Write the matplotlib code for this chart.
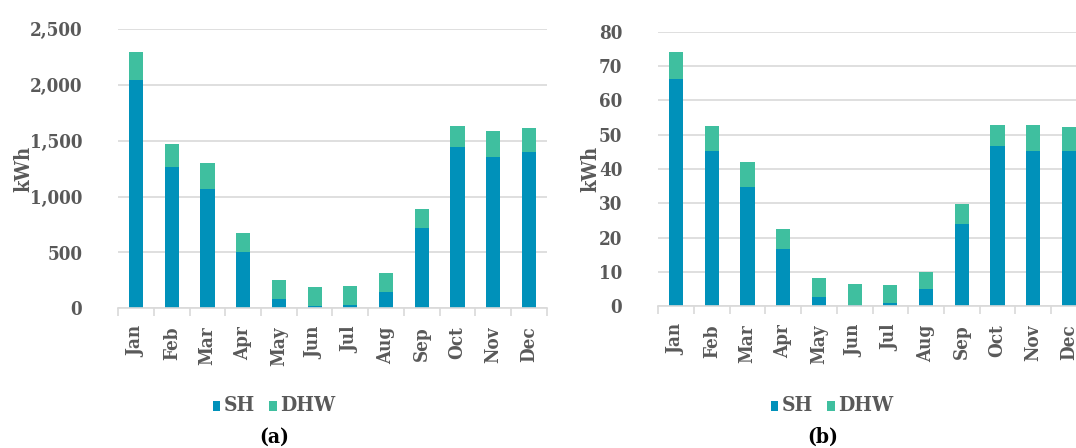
import matplotlib
matplotlib.use("Agg")
import matplotlib.pyplot as plt
from matplotlib.ticker import FuncFormatter, FixedLocator, NullFormatter
from matplotlib.patches import Patch
import numpy as np

months = ["Jan", "Feb", "Mar", "Apr", "May", "Jun", "Jul", "Aug", "Sep", "Oct", "Nov", "Dec"]

# Panel (a)
sh_a = [2045, 1265, 1070, 500, 87, 21, 30, 147, 720, 1445, 1355, 1400]
total_a = [2293, 1469, 1301, 675, 258, 195, 201, 312, 894, 1631, 1589, 1616]
dhw_a = [t - s for t, s in zip(total_a, sh_a)]

# Panel (b)
sh_b = [66.1, 45.1, 34.7, 16.6, 2.8, 0.5, 1.1, 4.9, 24.0, 46.6, 45.1, 45.1]
total_b = [74.1, 52.4, 42.0, 22.5, 8.3, 6.4, 6.3, 10.0, 29.8, 52.7, 52.9, 52.1]
dhw_b = [round(t - s, 2) for t, s in zip(total_b, sh_b)]

series_names = ["SH", "DHW"]
yticks_a = [0, 500, 1000, 1500, 2000, 2500]
yticks_b = [0, 10, 20, 30, 40, 50, 60, 70, 80]
ylabel = "kWh"
captions = ["(a)", "(b)"]

SH_COLOR = "#0091BA"
DHW_COLOR = "#3FBF9F"
TXT = "#595959"
GRID = "#D9D9D9"
FONT = "DejaVu Serif"
STRETCH = "condensed"
TS = 13.5

W, H = 1076, 448
fig = plt.figure(figsize=(W / 100, H / 100), dpi=100)


def px_axes(x0, x1, ytop, ybot):
    return [x0 / W, (H - ybot) / H, (x1 - x0) / W, (ybot - ytop) / H]


def style(t, size=TS, color=TXT, weight="bold"):
    t.set_fontfamily(FONT)
    t.set_fontstretch(STRETCH)
    t.set_fontweight(weight)
    t.set_fontsize(size)
    t.set_color(color)


def draw(ax, sh, dhw, yticks, fmt):
    x = np.arange(len(months))
    ax.bar(x, sh, width=0.40, color=SH_COLOR, zorder=3)
    ax.bar(x, dhw, width=0.40, bottom=sh, color=DHW_COLOR, zorder=3)
    ax.set_xlim(-0.5, len(months) - 0.5)
    ax.set_ylim(yticks[0], yticks[-1])
    ax.set_yticks(yticks)
    ax.yaxis.set_major_formatter(FuncFormatter(fmt))
    ax.grid(axis="y", color=GRID, linewidth=1.2, zorder=0)
    for s in ["top", "right", "left"]:
        ax.spines[s].set_visible(False)
    ax.spines["bottom"].set_color(GRID)
    ax.spines["bottom"].set_linewidth(1.2)
    ax.spines["bottom"].set_zorder(4)
    ax.tick_params(axis="y", length=0, pad=26)
    ax.xaxis.set_major_locator(FixedLocator(np.arange(-0.5, len(months), 1.0)))
    ax.xaxis.set_major_formatter(NullFormatter())
    ax.xaxis.set_minor_locator(FixedLocator(x))
    ax.set_xticklabels(months, minor=True)
    ax.tick_params(axis="x", which="major", length=6, color=GRID, width=1.2)
    ax.tick_params(axis="x", which="minor", length=0, pad=13, labelrotation=90)
    for lab in ax.get_xticklabels(minor=True) + ax.get_yticklabels():
        style(lab)


ax1 = fig.add_axes(px_axes(118.3, 546.7, 29.3, 308.3))
draw(ax1, sh_a, dhw_a, yticks_a, lambda v, p: f"{v:,.0f}")
ax2 = fig.add_axes(px_axes(658.3, 1086.7, 31.7, 306.3))
draw(ax2, sh_b, dhw_b, yticks_b, lambda v, p: f"{v:.0f}")

for xc, yc in [(23, 169), (590, 169)]:
    t = fig.text(xc / W, (H - yc) / H, ylabel, rotation=90, ha="center", va="center")
    style(t, size=14.5)

handles = [Patch(facecolor=SH_COLOR), Patch(facecolor=DHW_COLOR)]
for xc in [274, 832]:
    leg = fig.legend(handles, series_names, loc="center", bbox_to_anchor=(xc / W, (H - 405) / H),
                     ncol=2, frameon=False, handlelength=0.55, handleheight=0.75,
                     handletextpad=0.25, columnspacing=1.0)
    for t in leg.get_texts():
        style(t, size=15)

for xc, cap in zip([274, 823], captions):
    t = fig.text(xc / W, (H - 437) / H, cap, ha="center", va="center")
    style(t, size=15, color="black")

fig.savefig("out.png", dpi=100)
